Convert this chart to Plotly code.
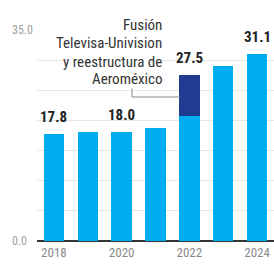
import plotly.graph_objects as go

years = ["2018", "2019", "2020", "2021", "2022", "2023", "2024"]
base_vals = [17.8, 18.1, 18.0, 18.7, 20.7, 29.1, 31.1]
extra_vals = [0, 0, 0, 0, 6.8, 0, 0]
label_years = ["2018", "2020", "2022", "2024"]
label_vals = [17.8, 18.0, 27.5, 31.1]
y_ticks = [0, 5, 10, 15, 20, 25, 30, 35]
y_labels = {0: "0.0", 35: "35.0"}
note_lines = ["Fusión", "Televisa-Univision", "y reestructura de", "Aeroméxico"]

LIGHT = "#00AEEF"
DARK = "#1F3C91"
FONT = "Roboto Condensed, Liberation Sans Narrow, Roboto, Arial"

W, H = 274, 268
L, R, T, B = 37, 0, 30, 27
PW, PH = W - L - R, H - T - B

fig = go.Figure()
fig.add_bar(x=years, y=base_vals, marker_color=LIGHT, marker_line_width=0)
fig.add_bar(x=years, y=extra_vals, marker_color=DARK, marker_line_width=0)

for yr, v in zip(label_years, label_vals):
    fig.add_annotation(x=years.index(yr), y=v, text="<b>%.1f</b>" % v,
                       showarrow=False, yanchor="bottom", yshift=6,
                       xanchor="center",
                       font=dict(family=FONT, size=15, color="#222222"))

for v, t in y_labels.items():
    fig.add_annotation(xref="paper", x=(10 - L) / PW, y=v, text=t,
                       showarrow=False, xanchor="left", yanchor="middle",
                       font=dict(family=FONT, size=12, color="#a0a0a0"))

# note lines (paper coords)
ys = [25, 43, 62, 79]
for t, yp in zip(note_lines, ys):
    fig.add_annotation(xref="paper", yref="paper", x=(163 - L) / PW,
                       y=(H - B - yp) / PH, text=t, showarrow=False,
                       xanchor="right", yanchor="middle", bgcolor="white",
                       borderpad=0,
                       font=dict(family=FONT, size=15, color="#333333"))

# bracket
fig.add_shape(type="line", xref="paper", yref="paper",
              x0=(132 - L) / PW, x1=(132 - L) / PW,
              y0=(H - B - 87) / PH, y1=(H - B - 97) / PH,
              line=dict(color="#888888", width=1))
fig.add_shape(type="line", xref="paper", yref="paper",
              x0=(132 - L) / PW, x1=(180 - L) / PW,
              y0=(H - B - 97) / PH, y1=(H - B - 97) / PH,
              line=dict(color="#888888", width=1))

fig.update_layout(
    width=W, height=H, barmode="stack", bargap=0.4, showlegend=False,
    margin=dict(l=L, r=R, t=T, b=B, autoexpand=False),
    plot_bgcolor="white", paper_bgcolor="white",
    font=dict(family=FONT), hovermode=False,
)
fig.update_xaxes(type="category", tickvals=["2018", "2020", "2022", "2024"],
                 ticks="", showgrid=False, showline=False, automargin=False,
                 ticklabelstandoff=2,
                 tickfont=dict(family=FONT, size=13, color="#8a8a8a"),
                 range=[-0.5, 6.5])
fig.update_yaxes(range=[0, 35], tickvals=y_ticks, showticklabels=False,
                 showgrid=True, gridcolor="#e6e6e6", gridwidth=1,
                 zeroline=True, zerolinecolor="#333333", zerolinewidth=2,
                 automargin=False, ticks="")

fig.write_html(
    "out.html",
    config={"displayModeBar": False},
    post_script="document.body.style.margin='0';document.body.style.overflow='hidden';",
)
